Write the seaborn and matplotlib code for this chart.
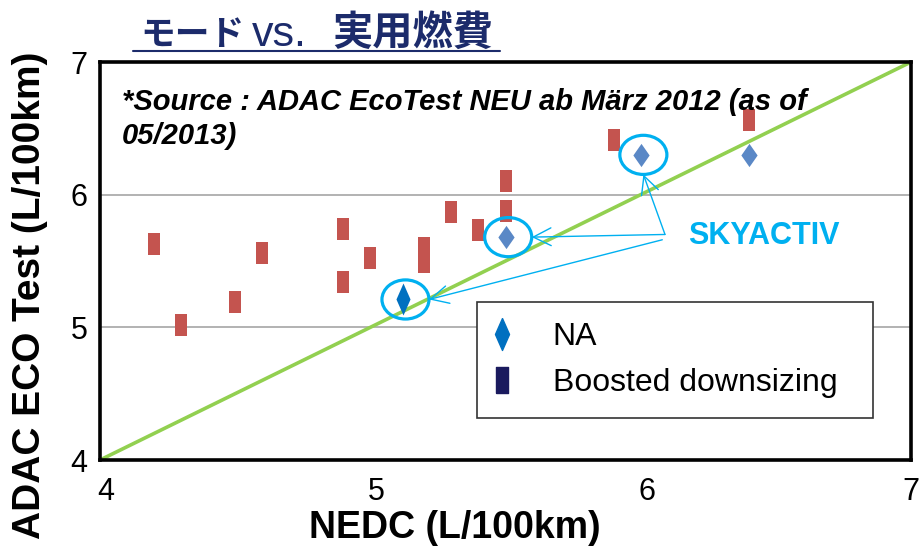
import matplotlib.pyplot as plt
import matplotlib.transforms as mtransforms
import pandas as pd
import seaborn as sns
from matplotlib.lines import Line2D
from matplotlib.patches import Ellipse

# Boosted downsizing cars: NEDC vs ADAC EcoTest fuel consumption (L/100km)
boosted_nedc = [4.2, 4.3, 4.5, 4.6, 4.9, 4.9, 5.0, 5.2, 5.2, 5.3, 5.4, 5.5, 5.5, 5.9, 6.4]
boosted_adac = [5.63, 5.02, 5.19, 5.56, 5.74, 5.34, 5.52, 5.60, 5.49, 5.87, 5.73, 6.10, 5.88, 6.41, 6.56]

# naturally aspirated cars
na_nedc = [5.12]
na_adac = [5.21]
na_other_nedc = [5.5, 6.0, 6.4]
na_other_adac = [5.68, 6.30, 6.30]

# SKYACTIV models (circled in the chart)
skyactiv_nedc = [5.12, 5.5, 6.0]
skyactiv_adac = [5.21, 5.68, 6.30]

parity_nedc = [4, 7]
parity_adac = [4, 7]
ticks = [4, 5, 6, 7]

RED = "#C4544F"
LIGHT_BLUE = "#5A88C6"
DARK_BLUE = "#0070C0"
NAVY = "#1A1A5E"
CYAN = "#00B0F0"
GREEN = "#92D050"
TITLE = "#1C2B6B"

sns.set_theme(style="white")
plt.rcParams["font.family"] = ["Liberation Sans", "Noto Sans CJK JP", "DejaVu Sans"]
plt.rcParams["text.color"] = "black"

rect = [(-0.29, -0.5), (0.29, -0.5), (0.29, 0.5), (-0.29, 0.5), (-0.29, -0.5)]
diamond_wide = [(0, 0.5), (0.35, 0), (0, -0.5), (-0.35, 0), (0, 0.5)]
diamond_thin = [(0, 0.5), (0.22, 0), (0, -0.5), (-0.22, 0), (0, 0.5)]
legend_rect = [(-0.24, -0.5), (0.24, -0.5), (0.24, 0.5), (-0.24, 0.5), (-0.24, -0.5)]

fig = plt.figure(figsize=(9.22, 5.5), dpi=100)
ax = fig.add_axes([100 / 922, 90 / 550, 811 / 922, 398 / 550])

boosted = pd.DataFrame({"nedc": boosted_nedc, "adac": boosted_adac})
na = pd.DataFrame({"nedc": na_nedc, "adac": na_adac})
na_other = pd.DataFrame({"nedc": na_other_nedc, "adac": na_other_adac})
parity = pd.DataFrame({"nedc": parity_nedc, "adac": parity_adac})

sns.lineplot(data=parity, x="nedc", y="adac", color=GREEN, lw=2.6, ax=ax, zorder=2)
sns.scatterplot(data=boosted, x="nedc", y="adac", marker=rect, s=230,
                color=RED, linewidth=0, ax=ax, zorder=3)
sns.scatterplot(data=na_other, x="nedc", y="adac", marker=diamond_wide, s=280,
                color=LIGHT_BLUE, linewidth=0, ax=ax, zorder=3)
sns.scatterplot(data=na, x="nedc", y="adac", marker=diamond_thin, s=530,
                color=DARK_BLUE, linewidth=0, ax=ax, zorder=3)

# highlight SKYACTIV points
ew, eh = 0.174, 0.295
for x, y in zip(skyactiv_nedc, skyactiv_adac):
    ax.add_patch(Ellipse((x + 0.01, y), ew, eh, fill=False, edgecolor=CYAN, lw=2.3, zorder=4))

ax.text(6.175, 5.69, "SKYACTIV", color=CYAN, fontsize=22, fontweight="bold",
        va="center", ha="left")
starts = [(6.09, 5.70), (6.09, 5.70), (6.08, 5.66)]
targets = [
    (skyactiv_nedc[2] + 0.01, skyactiv_adac[2] - eh / 2),
    (skyactiv_nedc[1] + 0.01 + ew / 2, skyactiv_adac[1]),
    (skyactiv_nedc[0] + 0.01 + ew / 2, skyactiv_adac[0]),
]
for start, end in zip(starts, targets):
    ax.annotate("", xy=end, xytext=start,
                arrowprops=dict(arrowstyle="->", color=CYAN, lw=1.0,
                                mutation_scale=32, shrinkA=0, shrinkB=0),
                zorder=4)

ax.text(0.027, 0.935, "*Source : ADAC EcoTest NEU ab März 2012 (as of\n05/2013)",
        transform=ax.transAxes, fontsize=21, fontweight="bold", fontstyle="italic",
        color="black", va="top", ha="left", linespacing=1.3)

ax.set_xlim(4, 7)
ax.set_ylim(4, 7)
ax.set_xticks(ticks)
ax.set_yticks(ticks)
ax.yaxis.grid(True, color="#A6A6A6", lw=1.2)
ax.tick_params(axis="both", length=0, labelsize=22, colors="black")
ax.tick_params(axis="x", pad=12)
ax.tick_params(axis="y", pad=9)
offset = mtransforms.ScaledTranslation(6 / 100, 0, fig.dpi_scale_trans)
for lab in ax.get_xticklabels()[:-1]:
    lab.set_transform(lab.get_transform() + offset)
for side in ["left", "right", "top", "bottom"]:
    ax.spines[side].set_color("black")
    ax.spines[side].set_linewidth(2.6)

ax.set_xlabel("NEDC (L/100km)", fontsize=27, fontweight="bold", color="black")
ax.set_ylabel("ADAC ECO Test (L/100km)", fontsize=28, fontweight="bold", color="black")
ax.xaxis.set_label_coords(0.438, -0.125)
ax.yaxis.set_label_coords(-0.064, 0.415)

handles = [
    Line2D([], [], marker=diamond_thin, color=DARK_BLUE, linestyle="none", markersize=23),
    Line2D([], [], marker=legend_rect, color=NAVY, linestyle="none", markersize=19),
]
leg = ax.legend(handles, ["NA", "Boosted downsizing"], loc="upper left",
                bbox_to_anchor=(0.465, 0.1, 0.488, 0.297), mode="expand",
                borderaxespad=0, fontsize=23, frameon=True, fancybox=False,
                edgecolor="#333333", framealpha=1, handlelength=0.31,
                handletextpad=1.44, borderpad=0.62, labelspacing=0.5)
leg.get_frame().set_linewidth(1.2)
leg.set_zorder(5)

# title
fig.text(140 / 922, 0.918, "モード", family="Noto Sans CJK JP", fontweight="bold",
         fontsize=25, color=TITLE, va="baseline")
fig.text(252 / 922, 0.916, "vs.", family="Liberation Sans", fontsize=31,
         color=TITLE, va="baseline")
fig.text(332 / 922, 0.918, "実用燃費", family="Noto Sans CJK JP", fontweight="bold",
         fontsize=29, color=TITLE, va="baseline")
fig.add_artist(Line2D([133 / 922, 500 / 922], [0.907, 0.907], color=TITLE, lw=1.5))

fig.savefig("out.png", dpi=100)
